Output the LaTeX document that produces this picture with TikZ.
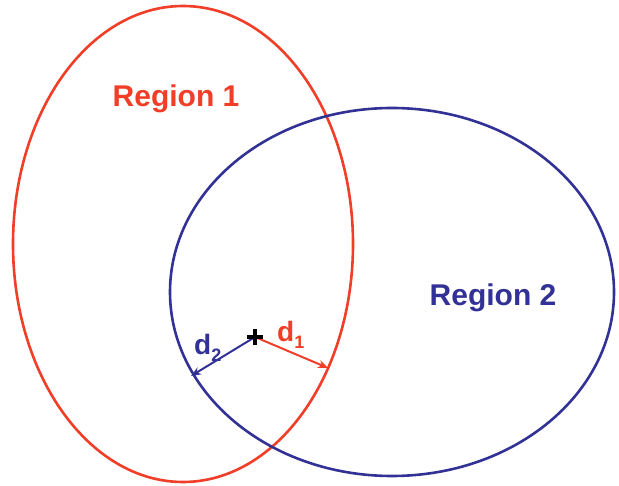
\documentclass[tikz,border=0pt]{standalone}
\usepackage{fontspec}
\setmainfont{Liberation Sans}
\usetikzlibrary{arrows.meta,calc}
\definecolor{regred}{RGB}{240,62,40}
\definecolor{regblue}{RGB}{50,50,150}
\tikzset{
  region/.style={line width=2.6pt},
  lab/.style={font=\fontsize{30}{32}\selectfont\bfseries, inner sep=0pt, anchor=base},
  dlab/.style={font=\fontsize{28}{30}\selectfont\bfseries, inner sep=0pt, anchor=base west},
  darrow/.style={line width=2pt, -{Stealth[length=10pt,width=8pt]}}
}
\newcommand{\subnum}[1]{\raisebox{-0.25em}{\fontsize{18}{18}\selectfont #1}}
\begin{document}
\begin{tikzpicture}[x=1pt,y=-1pt]
\useasboundingbox (0,0) rectangle (619,486);
\draw[region, regred] (183,244) ellipse [x radius=170, y radius=238];
\draw[region, regblue] (392,292) ellipse [x radius=222, y radius=184];
\node[lab, text=regred] (r1) at (176,107) {Region 1};
\node[lab, text=regblue] (r2) at (493,306) {Region 2};
\coordinate (p) at (255,337);
\coordinate (t1) at ($(183,244)+(31.4:170 and 238)$);
\coordinate (t2) at (191,376);
\draw[darrow, regred] (p) -- (t1);
\draw[darrow, regblue] (p) -- (t2);
\node[inner sep=0pt] (plus) at (p) {};
\draw[line width=3.5pt] ($(plus)+(-8,0)$) -- ($(plus)+(8,0)$);
\draw[line width=3.5pt] ($(plus)+(0,-8)$) -- ($(plus)+(0,8)$);
\node[dlab, text=regred] (d1) at (277,342) {d\subnum{1}};
\node[dlab, text=regblue] (d2) at (194,355) {d\subnum{2}};
\end{tikzpicture}
\end{document}
